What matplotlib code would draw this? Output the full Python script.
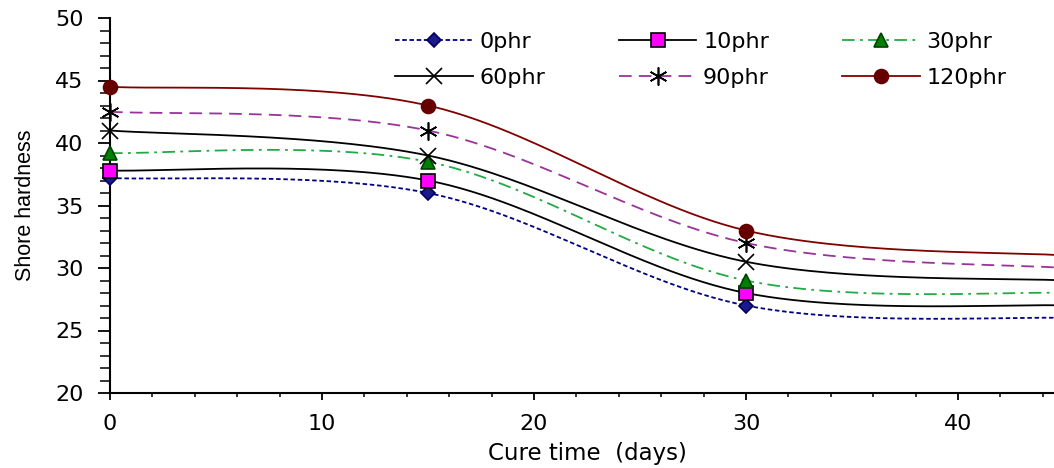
import numpy as np
import matplotlib
matplotlib.use("Agg")
import matplotlib.pyplot as plt
from matplotlib.ticker import MultipleLocator

plt.rcParams['font.family'] = ['DejaVu Sans']

cure_days = [0, 15, 30, 45]
series_names = ["0phr", "10phr", "30phr", "60phr", "90phr", "120phr"]
phr0 = [37.2, 36.0, 27.0, 26.0]
phr10 = [37.8, 37.0, 28.0, 27.0]
phr30 = [39.2, 38.5, 29.0, 28.0]
phr60 = [41.0, 39.0, 30.5, 29.0]
phr90 = [42.5, 41.0, 32.0, 30.0]
phr120 = [44.5, 43.0, 33.0, 31.0]
values = [phr0, phr10, phr30, phr60, phr90, phr120]

styles = [
    dict(color="#000080", ls=(0, (2.5, 1.5)), marker="D", mfc="#1a1a8c", mec="#000060", ms=7),
    dict(color="#000000", ls="-", marker="s", mfc="#ff00ff", mec="#000000", ms=10),
    dict(color="#22aa44", ls=(0, (7, 3, 1.5, 3)), marker="^", mfc="#008000", mec="#004000", ms=10),
    dict(color="#000000", ls="-", marker="x", mfc="none", mec="#000000", ms=11),
    dict(color="#993399", ls=(0, (7, 4)), marker=(6, 2, 0), mfc="none", mec="#000000", ms=13),
    dict(color="#800000", ls="-", marker="o", mfc="#660000", mec="#660000", ms=10),
]


def smooth(x, y, n=60):
    # Excel-like smoothed line (Catmull-Rom Bezier segments through the points)
    x = np.asarray(x, float)
    y = np.asarray(y, float)
    px = np.concatenate([[x[0]], x, [x[-1]]])
    py = np.concatenate([[y[0]], y, [y[-1]]])
    xs, ys = [], []
    t = np.linspace(0, 1, n)
    for i in range(1, len(px) - 2):
        p0 = np.array([px[i], py[i]])
        p3 = np.array([px[i + 1], py[i + 1]])
        c1 = p0 + (np.array([px[i + 1], py[i + 1]]) - np.array([px[i - 1], py[i - 1]])) / 6
        c2 = p3 - (np.array([px[i + 2], py[i + 2]]) - np.array([px[i], py[i]])) / 6
        b = ((1 - t) ** 3)[:, None] * p0 + (3 * (1 - t) ** 2 * t)[:, None] * c1 \
            + (3 * (1 - t) * t ** 2)[:, None] * c2 + (t ** 3)[:, None] * p3
        xs.append(b[:, 0])
        ys.append(b[:, 1])
    return np.concatenate(xs), np.concatenate(ys)


fig = plt.figure(figsize=(10.54, 4.68), dpi=100)
ax = fig.add_axes([110 / 1054, 1 - 393 / 468, (1064 - 110) / 1054, 375 / 468])

handles = []
for name, vals, st in zip(series_names, values, styles):
    sx, sy = smooth(cure_days, vals)
    ax.plot(sx, sy, color=st["color"], ls=st["ls"], lw=1.3, zorder=2)
    ax.plot(cure_days, vals, ls="none", marker=st["marker"], mfc=st["mfc"],
            mec=st["mec"], ms=st["ms"], mew=1.2, zorder=3, clip_on=False)
    h, = ax.plot([], [], color=st["color"], ls=st["ls"], lw=1.3, marker=st["marker"],
                 mfc=st["mfc"], mec=st["mec"], ms=st["ms"], mew=1.2, label=name)
    handles.append(h)

ax.set_xlim(0, 45)
ax.set_ylim(20, 50)
ax.xaxis.set_major_locator(MultipleLocator(10))
ax.xaxis.set_minor_locator(MultipleLocator(2))
ax.yaxis.set_major_locator(MultipleLocator(5))
ax.yaxis.set_minor_locator(MultipleLocator(1))
ax.spines["top"].set_visible(False)
ax.spines["right"].set_visible(False)
ax.spines["left"].set_linewidth(1.5)
ax.spines["bottom"].set_linewidth(1.5)
ax.tick_params(axis="both", which="major", labelsize=16, width=1.3, direction="out")
ax.tick_params(axis="y", which="major", length=9, pad=10)
ax.tick_params(axis="y", which="minor", length=7, width=1.1)
ax.tick_params(axis="x", which="major", length=5, pad=10)
ax.tick_params(axis="x", which="minor", length=3, width=1.1)

ax.set_xlabel("Cure time  (days)", fontsize=16.5, labelpad=6)
ax.set_ylabel("Shore hardness", fontsize=15.5, labelpad=14, family="Liberation Sans")

order = [0, 3, 1, 4, 2, 5]
fig.legend(handles=[handles[i] for i in order], ncol=3, loc="upper left",
           bbox_to_anchor=(395 / 1054, 1 - 32 / 468), borderpad=0, borderaxespad=0,
           frameon=False, fontsize=16, handlelength=3.5, columnspacing=3.3,
           handletextpad=0.3, labelspacing=0.7)

fig.savefig("out.png", dpi=100)
